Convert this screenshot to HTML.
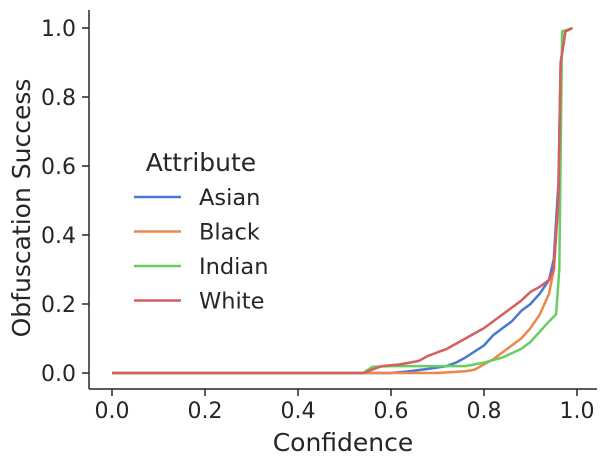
<!DOCTYPE html>
<html><head><meta charset="utf-8"><style>
html,body{margin:0;padding:0;background:#fff}
text{font-family:"DejaVu Sans","Liberation Sans",sans-serif;fill:#262626}
</style></head><body>
<svg id="chart" width="606" height="466" viewBox="0 0 606 466">
<g id="axes"></g>
<g id="series"></g>
<g id="legend"></g>
</svg>
<script>
const xTicks=[0.0,0.2,0.4,0.6,0.8,1.0];
const yTicks=[0.0,0.2,0.4,0.6,0.8,1.0];
const seriesNames=["Asian","Black","Indian","White"];
const seriesColors=["#4878d0","#ee854a","#6acc64","#d65f5f"];
const asianX=[0,0.6,0.64,0.68,0.72,0.74,0.76,0.8,0.82,0.84,0.86,0.88,0.9,0.92,0.94,0.95,0.96,0.965,0.975,0.99];
const asianY=[0,0,0.005,0.012,0.02,0.03,0.045,0.08,0.11,0.13,0.15,0.18,0.2,0.23,0.27,0.33,0.55,0.9,0.99,1];
const blackX=[0,0.7,0.76,0.78,0.8,0.82,0.84,0.86,0.88,0.9,0.92,0.94,0.95,0.96,0.965,0.975,0.99];
const blackY=[0,0,0.005,0.01,0.025,0.04,0.06,0.08,0.1,0.13,0.17,0.23,0.3,0.5,0.9,0.99,1];
const indianX=[0,0.54,0.56,0.6,0.76,0.8,0.84,0.88,0.9,0.92,0.94,0.955,0.962,0.968,0.99];
const indianY=[0,0,0.018,0.02,0.02,0.03,0.045,0.07,0.09,0.12,0.15,0.17,0.3,0.99,1];
const whiteX=[0,0.54,0.56,0.58,0.62,0.66,0.68,0.7,0.72,0.76,0.8,0.84,0.88,0.9,0.92,0.94,0.95,0.96,0.965,0.975,0.99];
const whiteY=[0,0,0.01,0.02,0.025,0.035,0.05,0.06,0.07,0.1,0.13,0.17,0.21,0.235,0.25,0.27,0.3,0.5,0.9,0.99,1];

const NS="http://www.w3.org/2000/svg";
const sx=v=>112+v*465, sy=v=>373-v*345;
function mk(tag,attrs,parent,txt){const e=document.createElementNS(NS,tag);for(const k in attrs)e.setAttribute(k,attrs[k]);if(txt!==undefined)e.textContent=txt;parent.appendChild(e);return e;}
const axes=document.getElementById('axes');
let e=mk('line',{x1:89,y1:389,x2:597,y2:389,stroke:'#262626','stroke-width':1.5},axes);


e=mk('line',{x1:89,y1:10,x2:89,y2:389,stroke:'#262626','stroke-width':1.5},axes);


xTicks.forEach(t=>{
 const x=sx(t);
 let l=mk('line',{x1:x,y1:389,x2:x,y2:396,stroke:'#262626','stroke-width':1.5},axes);
 
 
 let tx=mk('text',{x:x,y:418,'text-anchor':'middle','font-size':22},axes,t.toFixed(1));
 
 
});
yTicks.forEach(t=>{
 const y=sy(t);
 let l=mk('line',{x1:82,y1:y,x2:89,y2:y,stroke:'#262626','stroke-width':1.5},axes);
 
 
 let tx=mk('text',{x:76,y:y+8,'text-anchor':'end','font-size':22},axes,t.toFixed(1));
 
 
});
e=mk('text',{x:343,y:451,'text-anchor':'middle','font-size':25},axes,'Confidence');


e=mk('text',{x:0,y:0,'text-anchor':'middle','font-size':25,transform:'translate(30,208) rotate(-90)'},axes,'Obfuscation Success');



const sg=document.getElementById('series');
const data=[[asianX,asianY],[blackX,blackY],[indianX,indianY],[whiteX,whiteY]];
data.forEach((d,i)=>{
 const pts=d[0].map((x,j)=>sx(x).toFixed(1)+','+sy(d[1][j]).toFixed(1)).join(' ');
 const p=mk('polyline',{points:pts,fill:'none',stroke:seriesColors[i],'stroke-width':2.5,'stroke-linejoin':'round'},sg);
 
 
});

const lg=document.getElementById('legend');
e=mk('text',{x:201,y:171,'text-anchor':'middle','font-size':25},lg,'Attribute');


seriesNames.forEach((n,i)=>{
 const y=197+i*34.5;
 const g=mk('g',{},lg);
 
 
 mk('line',{x1:134,y1:y,x2:181,y2:y,stroke:seriesColors[i],'stroke-width':2.5},g);
 mk('text',{x:199,y:y+8,'font-size':22.5},g,n);
});
</script>
</body></html>
